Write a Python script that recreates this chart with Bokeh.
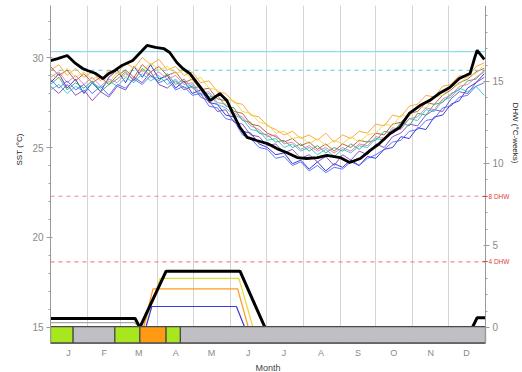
from bokeh.plotting import figure
from bokeh.models import (Range1d, LinearAxis, SingleIntervalTicker, FixedTicker, Title)
from bokeh.embed import file_html
from bokeh.resources import INLINE

# ---------------- data ----------------
MONTHS = ["J", "F", "M", "A", "M", "J", "J", "A", "S", "O", "N", "D"]
MONTH_MID = [15, 45, 74, 105, 135, 166, 196, 227, 258, 288, 319, 349]
MONTH_START = [31, 59, 90, 120, 151, 181, 212, 243, 273, 304, 334]
YEAR_DAYS = 365

WEEK_DAYS = list(range(0, 365, 7))

# other years' SST (deg C), weekly
SST_YEARS = {
    "#1a1ad0": [28.6, 29.1, 28.3, 28.8, 28.0, 28.6, 28.1, 28.9,
                29.3, 28.6, 29.5, 28.9, 29.6, 28.8, 29.0, 28.3, 28.7,
                28.0, 28.2, 27.5, 27.4, 26.8,
                26.7, 25.9, 25.8, 25.2,
                25.0, 24.6, 24.7, 24.1, 24.3,
                23.8, 24.2, 23.7, 24.1,
                23.9, 24.3, 24.0, 24.5,
                24.4, 24.9, 25.0, 25.6, 25.5,
                26.1, 26.0, 26.7, 26.8,
                27.4, 27.6, 28.3, 28.6, 29.1],
    "#7a3ab0": [28.4, 28.0, 28.5, 27.9, 28.2, 27.6, 28.1, 27.8,
                28.4, 28.2, 28.9, 28.6, 29.2, 28.5, 28.3, 28.7, 28.2,
                28.4, 27.8, 27.6, 27.0, 27.1,
                26.4, 26.3, 25.7, 25.6,
                25.1, 25.2, 24.7, 24.9, 24.4,
                24.6, 24.2, 24.5, 24.0,
                24.6, 24.3, 24.8, 24.6,
                25.2, 25.0, 25.6, 25.8, 26.3,
                26.2, 26.8, 27.1, 27.0,
                27.7, 28.1, 28.0, 28.6, 28.9],
    "#ff9a1e": [29.3, 29.6, 29.0, 29.4, 28.9, 29.2, 28.7, 29.3,
                29.1, 29.7, 29.4, 30.0, 29.6, 29.9, 29.3, 29.5, 29.0,
                29.2, 28.6, 28.7, 28.1, 28.0,
                27.5, 27.4, 26.8, 26.7,
                26.2, 26.0, 25.7, 25.9, 25.5,
                25.7, 25.4, 25.8, 25.3,
                25.7, 25.5, 25.9, 25.8,
                26.3, 26.2, 26.8, 26.7, 27.3,
                27.4, 27.9, 27.8, 28.4,
                28.5, 29.0, 28.9, 29.5, 29.7],
    "#b0482a": [29.5, 29.0, 29.3, 28.7, 29.1, 28.6, 28.9, 28.5,
                29.0, 29.3, 28.9, 29.6, 29.2, 29.5, 29.0, 29.2, 28.6,
                28.8, 28.2, 28.3, 27.7, 27.6,
                27.0, 26.9, 26.3, 26.2,
                25.8, 25.6, 25.3, 25.5, 25.1,
                25.3, 24.9, 25.2, 24.8,
                25.2, 25.0, 25.4, 25.3,
                25.8, 25.7, 26.3, 26.4, 26.9,
                27.0, 27.5, 27.4, 27.9,
                28.2, 28.6, 28.8, 29.2, 29.4],
    "#30a050": [28.5, 28.9, 28.2, 28.6, 28.3, 28.7, 28.1, 28.5,
                28.8, 29.2, 28.7, 29.4, 29.0, 28.7, 29.1, 28.5, 28.8,
                28.3, 28.4, 27.8, 27.9, 27.3,
                27.2, 26.5, 26.4, 25.8,
                25.7, 25.3, 25.4, 25.0, 25.2,
                24.8, 25.1, 24.7, 25.0,
                24.8, 25.2, 24.9, 25.3,
                25.4, 25.9, 25.8, 26.4, 26.2,
                26.9, 26.8, 27.4, 27.5,
                28.0, 28.2, 28.7, 28.8, 29.3],
    "#20c0d0": [28.2, 28.5, 28.0, 28.4, 28.1, 28.6, 28.3, 28.7,
                28.4, 28.9, 28.6, 29.1, 28.7, 29.0, 28.5, 28.8, 28.3,
                28.5, 27.9, 28.0, 27.4, 27.2,
                26.8, 26.6, 26.0, 25.9,
                25.4, 25.5, 25.0, 25.2, 24.8,
                25.0, 24.6, 24.9, 24.5,
                24.9, 24.7, 25.1, 25.0,
                25.5, 25.4, 26.0, 26.1, 26.6,
                26.5, 27.1, 27.0, 27.6,
                27.8, 28.3, 28.1, 28.4, 27.9],
    "#e8d838": [29.1, 28.8, 29.4, 28.9, 29.2, 28.8, 29.0, 28.6,
                29.2, 28.9, 29.5, 29.2, 29.7, 29.3, 29.5, 29.1, 29.3,
                28.7, 28.9, 28.3, 28.2, 27.7,
                27.6, 27.0, 26.9, 26.4,
                26.3, 25.8, 25.9, 25.5, 25.6,
                25.2, 25.5, 25.1, 25.4,
                25.2, 25.6, 25.3, 25.7,
                25.8, 26.3, 26.2, 26.8, 26.7,
                27.3, 27.2, 27.8, 27.9,
                28.4, 28.5, 29.0, 29.1, 29.6],
    "#e070b0": [28.9, 29.2, 28.6, 29.0, 28.5, 28.9, 28.4, 28.8,
                28.6, 29.1, 28.8, 29.3, 28.9, 29.2, 28.8, 29.0, 28.5,
                28.6, 28.0, 28.1, 27.5, 27.4,
                26.9, 26.7, 26.2, 26.0,
                25.6, 25.7, 25.2, 25.3, 24.9,
                25.1, 24.8, 25.0, 24.7,
                25.0, 24.8, 25.2, 25.1,
                25.6, 25.5, 26.1, 26.0, 26.6,
                26.7, 27.2, 27.1, 27.7,
                27.9, 28.4, 28.5, 28.9, 29.2],
    "#4060ff": [28.8, 28.3, 28.7, 28.2, 28.5, 28.0, 28.4, 27.9,
                28.5, 28.3, 28.8, 28.5, 29.0, 28.6, 28.8, 28.2, 28.4,
                27.9, 28.0, 27.3, 27.2, 26.6,
                26.5, 25.7, 25.5, 25.0,
                24.9, 24.4, 24.5, 24.0, 24.2,
                23.7, 24.0, 23.6, 23.9,
                23.8, 24.2, 24.0, 24.4,
                24.6, 24.9, 25.3, 25.4, 25.9,
                26.0, 26.5, 26.6, 27.2,
                27.3, 27.8, 27.9, 28.4, 28.6],
}

# current year SST (thick black)
CUR_DAYS = [0, 6, 14, 21, 27, 31, 38, 44, 49, 54, 60, 69, 77, 81, 88, 95, 100, 106, 111, 117,
            126, 134, 142, 148, 153, 159, 165, 173, 182, 190, 198, 207, 215, 224, 232, 243,
            251, 260, 268, 276, 285, 293, 301, 310, 318, 326, 335, 343, 352, 356, 358, 364]
CUR_SST = [29.83, 29.94, 30.11, 29.67, 29.39, 29.28, 29.11, 28.83, 29.11, 29.28, 29.56, 29.83,
           30.39, 30.67, 30.56, 30.50, 30.28, 29.72, 29.39, 29.11, 28.33, 27.61, 28.00, 27.61,
           26.89, 26.11, 25.56, 25.39, 25.22, 24.94, 24.72, 24.44, 24.39, 24.44, 24.56, 24.44,
           24.17, 24.39, 24.83, 25.22, 25.78, 26.11, 26.89, 27.33, 27.61, 28.00, 28.33, 28.83,
           29.11, 30.00, 30.40, 29.90]

# thresholds
BLEACH_THRESH = 30.33   # solid cyan
MMM = 29.28             # dashed cyan
DHW_LEVELS = [8, 4]
DHW_LEVEL_LABELS = ["8 DHW", "4 DHW"]

# DHW (deg C-weeks)
DHW_OTHER = [
    ("#a8a8a8", [0, 70, 76], [0.3, 0.3, 0.0]),
    ("#e8d838", [78, 92, 158, 170], [0.0, 3.0, 3.0, 0.0]),
    ("#ff9a1e", [78, 86, 157, 166], [0.0, 2.36, 2.36, 0.0]),
    ("#3a3ae0", [80, 85, 156, 163], [0.0, 1.28, 1.28, 0.0]),
]
DHW_CUR_DAYS = [0, 71, 75, 97, 159, 180, 354, 358, 365]
DHW_CUR = [0.55, 0.55, 0.0, 3.43, 3.43, 0.0, 0.0, 0.6, 0.6]

# alert status bar
STATUS_START = [0, 19, 54, 75, 97, 109]
STATUS_END = [19, 54, 75, 97, 109, 365]
STATUS_COLOR = ["#a8e61e", "#c0c0c4", "#a8e61e", "#ff9a14", "#a8e61e", "#c0c0c4"]

# ---------------- figure ----------------
# frame spans x 50..510 px; the year (0..365 days) occupies 50..485 px, the rest holds
# the right-hand axis labels (drawn by axes fixed at the year's end).
W, H = 522, 372
BL, BR, BT, BB = 50, 12, 5, 29
YEAR_PX = 435
XEND = YEAR_DAYS * (W - BL - BR) / YEAR_PX
Y0, Y1 = 14.11, 32.89
D0, D1 = -0.976, 19.63

p = figure(width=W, height=H, output_backend="svg", toolbar_location=None,
           x_range=Range1d(0, XEND), y_range=Range1d(Y0, Y1),
           min_border_left=BL, min_border_right=BR, min_border_top=BT, min_border_bottom=BB)
p.extra_y_ranges = {"dhw": Range1d(D0, D1)}
p.outline_line_color = None
p.background_fill_color = "white"
p.border_fill_color = "white"

p.ygrid.visible = False
p.xgrid.ticker = FixedTicker(ticks=MONTH_START)
p.xgrid.grid_line_color = "#d4d4d4"
p.xgrid.grid_line_width = 1

AX = "#9a9a9a"
TICKC = "#8a8a8a"
FONT = "Liberation Sans"
RED = "#e04040"

ya = p.yaxis[0]
ya.ticker = SingleIntervalTicker(interval=5, num_minor_ticks=5)
ya.axis_line_color = AX
ya.major_tick_line_color = AX
ya.minor_tick_line_color = AX
ya.major_tick_out = 4
ya.major_tick_in = 2
ya.minor_tick_out = 2
ya.minor_tick_in = 0
ya.major_label_text_font_size = "10px"
ya.major_label_text_color = TICKC
ya.major_label_text_font = FONT
ya.major_label_standoff = 3

xa = p.xaxis[0]
xa.bounds = (0, YEAR_DAYS)
xa.ticker = FixedTicker(ticks=MONTH_MID)
xa.major_label_overrides = {d: m for d, m in zip(MONTH_MID, MONTHS)}
xa.major_tick_line_color = None
xa.minor_tick_line_color = None
xa.major_tick_out = 0
xa.major_tick_in = 0
xa.minor_tick_out = 0
xa.minor_tick_in = 0
xa.axis_line_color = "#666666"
xa.major_label_text_font_size = "9px"
xa.major_label_text_color = TICKC
xa.major_label_text_font = FONT
xa.major_label_standoff = 4

# right DHW axis, drawn at the end of the year
ra = LinearAxis(y_range_name="dhw", fixed_location=YEAR_DAYS,
                ticker=SingleIntervalTicker(interval=5, num_minor_ticks=5))
ra.axis_line_color = AX
ra.major_tick_line_color = AX
ra.minor_tick_line_color = AX
ra.major_tick_out = 4
ra.major_tick_in = 2
ra.minor_tick_out = 2
ra.minor_tick_in = 0
ra.major_label_text_font_size = "10px"
ra.major_label_text_color = TICKC
ra.major_label_text_font = FONT
ra.major_label_standoff = 3
p.add_layout(ra, "right")

# red DHW level labels
lvl = LinearAxis(y_range_name="dhw", ticker=FixedTicker(ticks=DHW_LEVELS),
                 fixed_location=YEAR_DAYS)
lvl.major_label_overrides = {v: t for v, t in zip(DHW_LEVELS, DHW_LEVEL_LABELS)}
lvl.axis_line_color = None
lvl.major_tick_line_color = RED
lvl.major_tick_in = 3
lvl.major_tick_out = 2
lvl.minor_tick_line_color = None
lvl.major_label_text_font_size = "6.5px"
lvl.major_label_text_color = RED
lvl.major_label_text_font = FONT
lvl.major_label_standoff = 1
p.add_layout(lvl, "right")

p.add_layout(Title(text="SST (°C)", align="left", offset=178, text_font_size="8px",
                   text_font_style="normal", text_color="#222222", text_font=FONT,
                   standoff=12), "left")
p.add_layout(Title(text="DHW (°C-weeks)", align="left", offset=97, text_font_size="8px",
                   text_font_style="normal", text_color="#222222", text_font=FONT,
                   standoff=0), "right")
p.add_layout(Title(text="Month", align="left", offset=205, text_font_size="9px",
                   text_font_style="normal", text_color="#444444", text_font=FONT,
                   standoff=0), "below")

# threshold lines (across the year)
p.segment(x0=[0], x1=[YEAR_DAYS], y0=[BLEACH_THRESH], y1=[BLEACH_THRESH],
          line_color="#8fdcec", line_width=1.2)
p.segment(x0=[0], x1=[YEAR_DAYS], y0=[MMM], y1=[MMM],
          line_color="#7fd4e8", line_width=1.2, line_dash="4 4")
p.segment(x0=[0] * len(DHW_LEVELS), x1=[YEAR_DAYS] * len(DHW_LEVELS),
          y0=DHW_LEVELS, y1=DHW_LEVELS, y_range_name="dhw",
          line_color="#f08a8a", line_width=1.2, line_dash="4 4")

# SST lines
for col, vals in SST_YEARS.items():
    p.line(WEEK_DAYS[:len(vals)], vals, line_color=col, line_width=1, line_alpha=0.85)
p.line(CUR_DAYS, CUR_SST, line_color="black", line_width=2.8)

# DHW lines
for col, d, v in DHW_OTHER:
    p.line(d, v, y_range_name="dhw", line_color=col, line_width=1.2)
p.line(DHW_CUR_DAYS, DHW_CUR, y_range_name="dhw", line_color="black", line_width=3)

# status bar
p.quad(left=STATUS_START, right=STATUS_END, bottom=Y0 + 0.04, top=15.05,
       fill_color=STATUS_COLOR, line_color="#4a4a4a", line_width=1.2)

open("out.html", "w").write(file_html(p, INLINE))
